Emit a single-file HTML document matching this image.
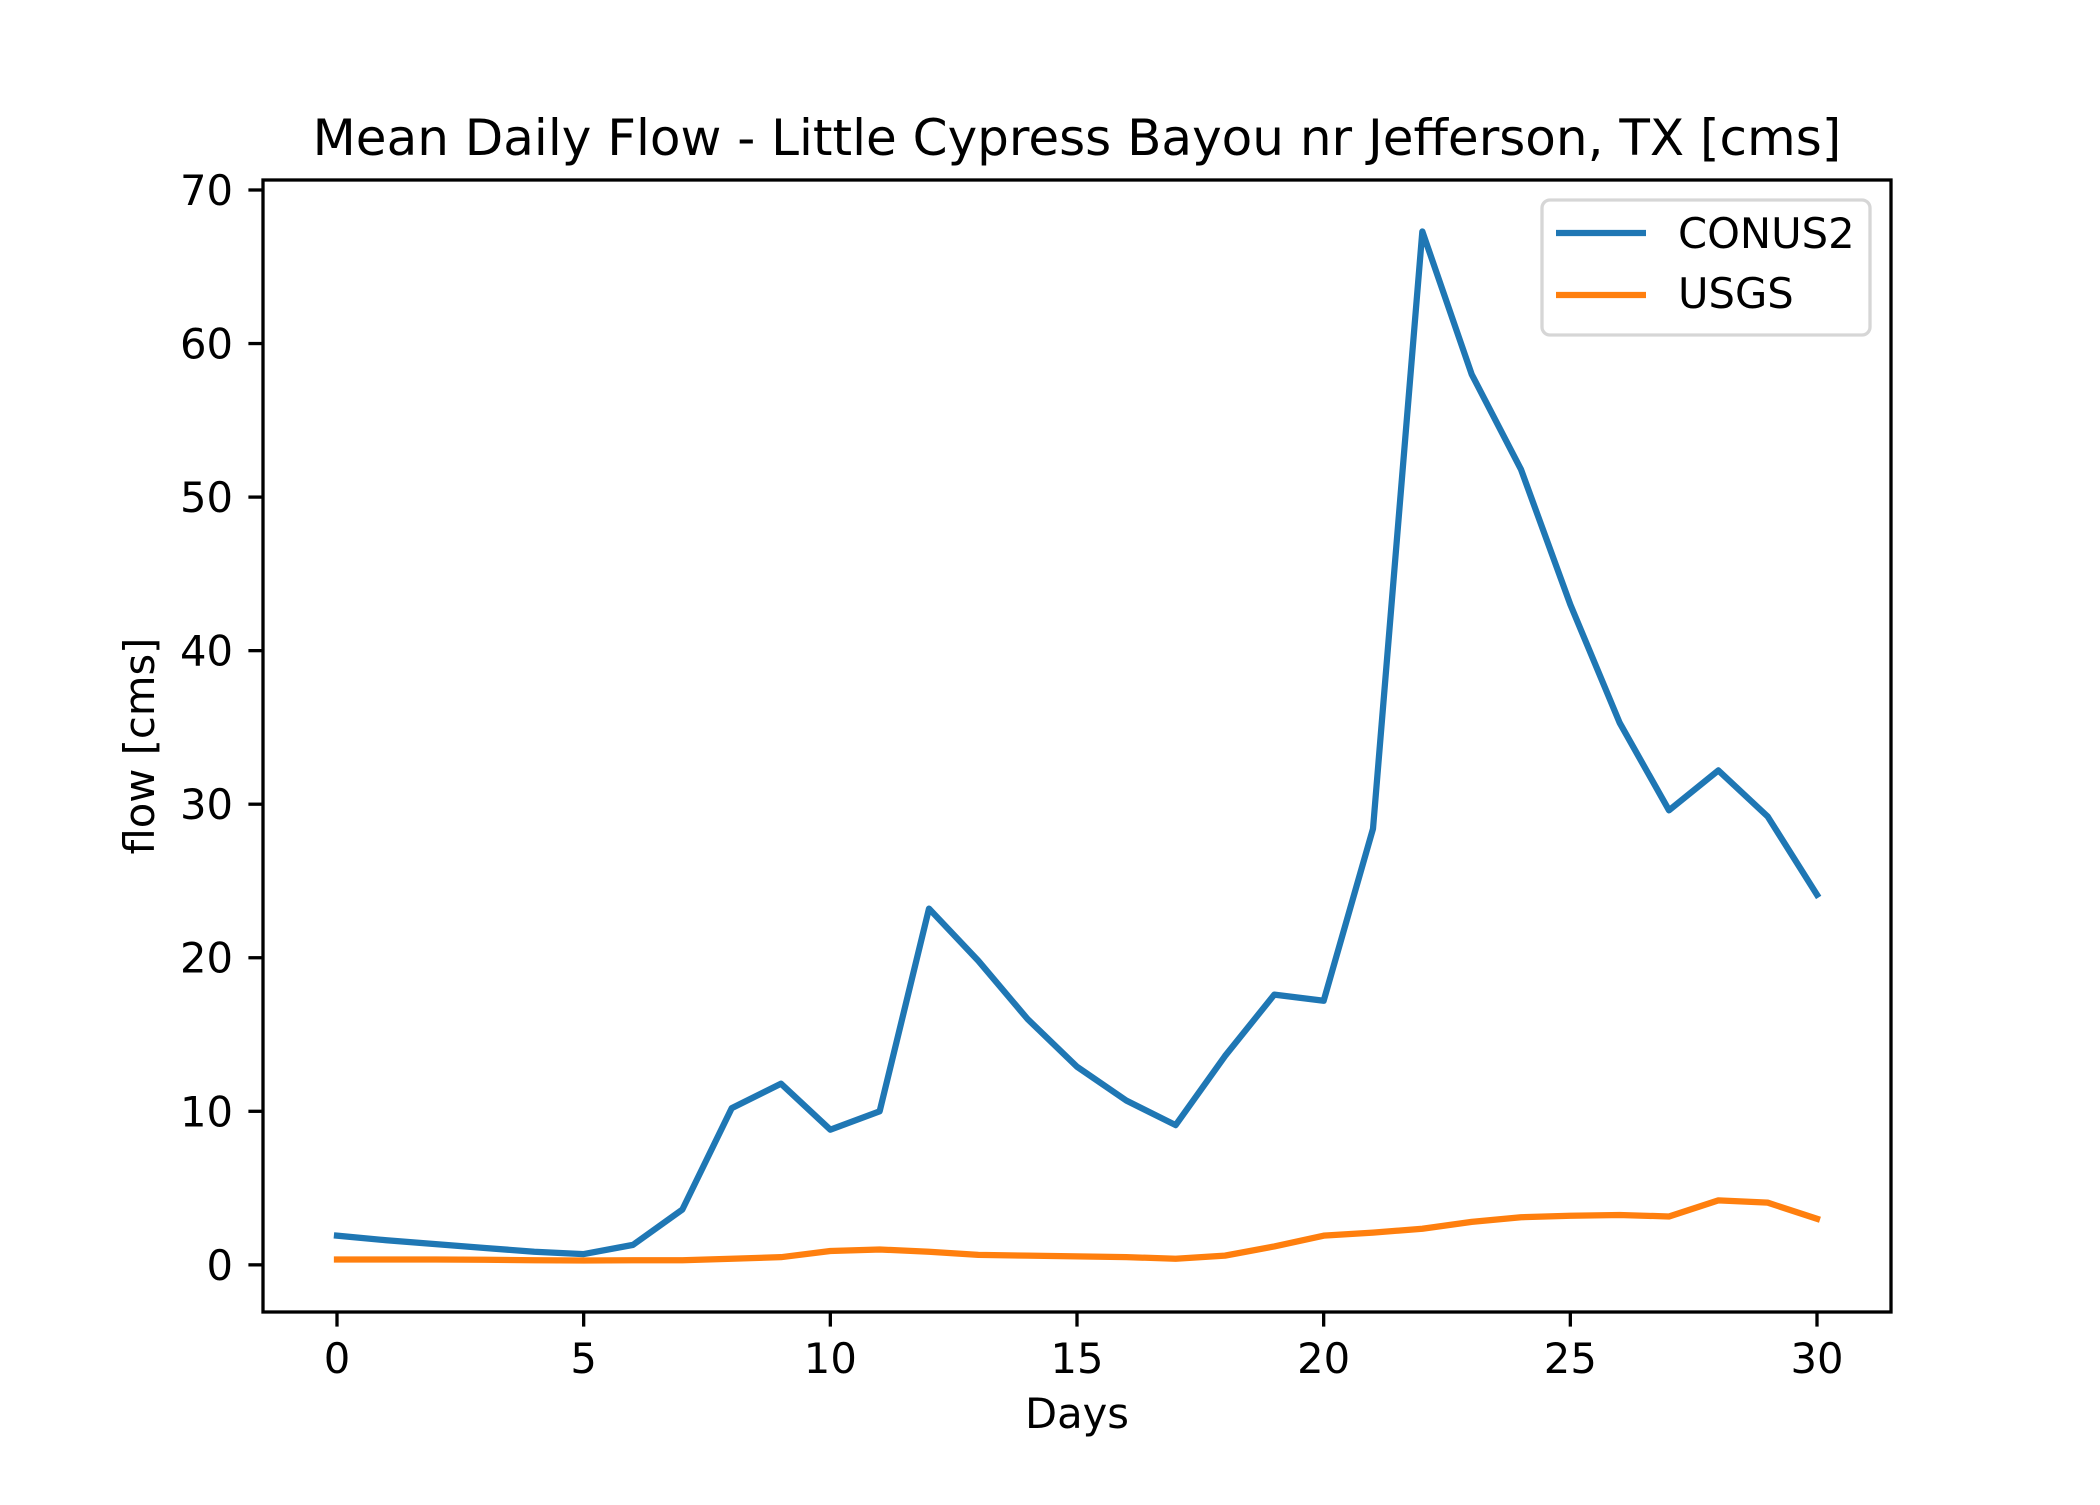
<!DOCTYPE html>
<html><head><meta charset="utf-8"><style>
body{margin:0;background:#fff}
svg text{font-family:"DejaVu Sans","Liberation Sans",sans-serif;fill:#000}
</style></head><body>
<svg id="chart" width="2100" height="1500" xmlns="http://www.w3.org/2000/svg">
<rect width="2100" height="1500" fill="#fff"/>
<text x="1077" y="155" font-size="50" text-anchor="middle">Mean Daily Flow - Little Cypress Bayou nr Jefferson, TX [cms]</text>
<g id="plot"></g>
<rect x="263" y="180" width="1628" height="1132" fill="none" stroke="#000" stroke-width="3.3"/>
<text x="1077" y="1428" font-size="41.7" text-anchor="middle">Days</text>
<text x="154" y="746" font-size="41.7" text-anchor="middle" transform="rotate(-90 154 746)">flow [cms]</text>
<g>
<rect x="1542" y="200" width="328" height="135" rx="8" fill="#fff" fill-opacity="0.8" stroke="#d6d6d6" stroke-width="3.3"/>
<line x1="1556" y1="233" x2="1646" y2="233" stroke="#1f77b4" stroke-width="6.25"/>
<text x="1678" y="248" font-size="41.7">CONUS2</text>
<line x1="1556" y1="295" x2="1646" y2="295" stroke="#ff7f0e" stroke-width="6.25"/>
<text x="1678" y="308" font-size="41.7">USGS</text>
</g>
</svg>
<script>
const days=[0,1,2,3,4,5,6,7,8,9,10,11,12,13,14,15,16,17,18,19,20,21,22,23,24,25,26,27,28,29,30];
const conus2=[1.9,1.6,1.35,1.1,0.85,0.7,1.3,3.6,10.2,11.8,8.8,10.0,23.2,19.8,16.0,12.9,10.7,9.1,13.6,17.6,17.2,28.4,67.3,58.0,51.8,43.0,35.3,29.6,32.2,29.2,24.1];
const usgs=[0.35,0.35,0.35,0.33,0.3,0.28,0.3,0.3,0.4,0.5,0.9,1.0,0.85,0.65,0.6,0.55,0.5,0.4,0.6,1.2,1.9,2.1,2.35,2.8,3.1,3.2,3.25,3.15,4.2,4.05,3.0];
const xTicks=[0,5,10,15,20,25,30];
const yTicks=[0,10,20,30,40,50,60,70];
const L=263,R=1891,T=180,B=1312;
const xmin=-1.5,xmax=31.5;
const all=conus2.concat(usgs);
const dmin=Math.min(...all),dmax=Math.max(...all),m=(dmax-dmin)*0.05;
const ymin=dmin-m,ymax=dmax+m;
const X=v=>L+(v-xmin)/(xmax-xmin)*(R-L);
const Y=v=>B-(v-ymin)/(ymax-ymin)*(B-T);
const NS='http://www.w3.org/2000/svg';
const g=document.getElementById('plot');
function mk(t,a){const e=document.createElementNS(NS,t);for(const k in a)e.setAttribute(k,a[k]);g.appendChild(e);return e;}
xTicks.forEach(v=>{
 const l=mk('line',{x1:X(v),x2:X(v),y1:B,y2:B+14.6,stroke:'#000','stroke-width':3.3});
 
 
 const t=mk('text',{x:X(v),y:B+61,'font-size':41.7,'text-anchor':'middle'});t.textContent=v;
 
 
});
yTicks.forEach(v=>{
 const l=mk('line',{x1:L-14.6,x2:L,y1:Y(v),y2:Y(v),stroke:'#000','stroke-width':3.3});
 
 
 const t=mk('text',{x:L-30,y:Y(v)+15,'font-size':41.7,'text-anchor':'end'});t.textContent=v;
 
 
});
function line(d,c,n){
 const p=mk('polyline',{points:d.map((v,i)=>X(days[i])+','+Y(v)).join(' '),fill:'none',stroke:c,'stroke-width':6.25,'stroke-linejoin':'round','stroke-linecap':'square'});
 
 
}
line(conus2,'#1f77b4','conus2-line');
line(usgs,'#ff7f0e','usgs-line');
</script>
</body></html>
